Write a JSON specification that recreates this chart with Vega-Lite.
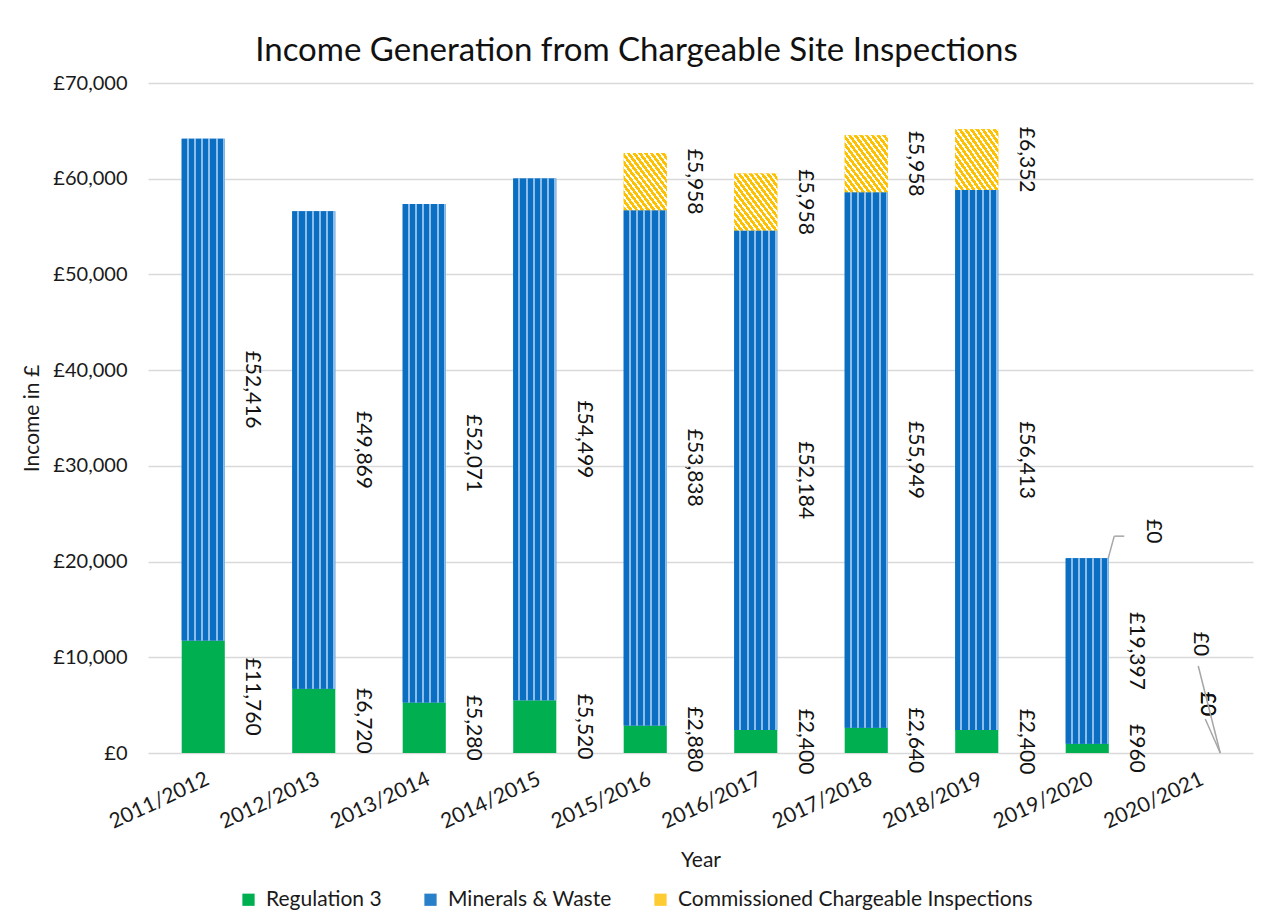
{
  "$schema": "https://vega.github.io/schema/vega-lite/v6.json",
  "width": 1105,
  "height": 670,
  "autosize": "none",
  "padding": {"left": 148, "top": 83, "right": 10, "bottom": 169},
  "background": "white",
  "config": {
    "locale": {"number": {"decimal": ".", "thousands": ",", "grouping": [3], "currency": ["£", ""]}},
    "font": "Lato",
    "view": {"stroke": null},
    "axis": {"labelFont": "Lato", "titleFont": "Lato", "labelColor": "#1a1a1a", "titleColor": "#1a1a1a", "titleFontWeight": "normal"}
  },
  "title": {
    "text": "Income Generation from Chargeable Site Inspections",
    "font": "Lato", "fontSize": 33, "fontWeight": "normal", "color": "#111111",
    "anchor": "middle", "frame": "group", "dx": -64, "offset": 5
  },
  "data": {
    "values": [
      {"year": "2011/2012", "series": "Regulation 3", "value": 11760},
      {"year": "2011/2012", "series": "Minerals & Waste", "value": 52416},
      {"year": "2012/2013", "series": "Regulation 3", "value": 6720},
      {"year": "2012/2013", "series": "Minerals & Waste", "value": 49869},
      {"year": "2013/2014", "series": "Regulation 3", "value": 5280},
      {"year": "2013/2014", "series": "Minerals & Waste", "value": 52071},
      {"year": "2014/2015", "series": "Regulation 3", "value": 5520},
      {"year": "2014/2015", "series": "Minerals & Waste", "value": 54499},
      {"year": "2015/2016", "series": "Regulation 3", "value": 2880},
      {"year": "2015/2016", "series": "Minerals & Waste", "value": 53838},
      {"year": "2015/2016", "series": "Commissioned Chargeable Inspections", "value": 5958},
      {"year": "2016/2017", "series": "Regulation 3", "value": 2400},
      {"year": "2016/2017", "series": "Minerals & Waste", "value": 52184},
      {"year": "2016/2017", "series": "Commissioned Chargeable Inspections", "value": 5958},
      {"year": "2017/2018", "series": "Regulation 3", "value": 2640},
      {"year": "2017/2018", "series": "Minerals & Waste", "value": 55949},
      {"year": "2017/2018", "series": "Commissioned Chargeable Inspections", "value": 5958},
      {"year": "2018/2019", "series": "Regulation 3", "value": 2400},
      {"year": "2018/2019", "series": "Minerals & Waste", "value": 56413},
      {"year": "2018/2019", "series": "Commissioned Chargeable Inspections", "value": 6352},
      {"year": "2019/2020", "series": "Regulation 3", "value": 960},
      {"year": "2019/2020", "series": "Minerals & Waste", "value": 19397},
      {"year": "2019/2020", "series": "Commissioned Chargeable Inspections", "value": 0},
      {"year": "2020/2021", "series": "Regulation 3", "value": 0},
      {"year": "2020/2021", "series": "Minerals & Waste", "value": 0},
      {"year": "2020/2021", "series": "Commissioned Chargeable Inspections", "value": 0}
    ]
  },
  "encoding": {
    "x": {
      "field": "year", "type": "nominal", "sort": null,
      "scale": {"paddingInner": 0.61, "paddingOuter": 0.305},
      "axis": {
        "title": "Year", "titleFontSize": 21, "titleY": 96, "titleBaseline": "top",
        "labelAngle": -25, "labelFontSize": 21, "labelPadding": 15, "labelAlign": "right", "labelBaseline": "top",
        "ticks": false, "domain": false, "grid": false
      }
    }
  },
  "layer": [
    {
      "mark": {"type": "bar"},
      "encoding": {
        "y": {
          "field": "value", "type": "quantitative", "stack": "zero",
          "scale": {"domain": [0, 70000], "nice": false},
          "axis": {"title": "Income in £", "titleFontSize": 21, "titleX": -116, "titleY": 335, "titleBaseline": "middle", "titleAlign": "center", "values": [0, 10000, 20000, 30000, 40000, 50000, 60000, 70000], "format": "$,.0f", "labelFontSize": 20, "labelPadding": 21, "ticks": false, "domain": false, "gridColor": "#d9d9d9", "gridWidth": 1.6}
        },
        "color": {
          "field": "series", "type": "nominal",
          "scale": {
            "domain": ["Regulation 3", "Minerals & Waste", "Commissioned Chargeable Inspections"],
            "range": ["#00B050", "#2a7fc9", "#FFCB33"]
          },
          "legend": {
            "orient": "none", "legendX": 90, "legendY": 806, "direction": "horizontal", "title": null,
            "symbolType": "square", "symbolSize": 150, "symbolStrokeWidth": 0, "labelLimit": 600,
            "labelFont": "Lato", "labelFontSize": 21, "labelColor": "#1a1a1a", "labelOffset": 7, "columnPadding": 38
          }
        },
        "order": {"field": "series", "sort": "descending"}
      }
    },
    {
      "transform": [
        {"stack": "value", "groupby": ["year"], "sort": [{"field": "series", "order": "descending"}], "as": ["v0", "v1"]},
        {"filter": "datum.series === 'Minerals & Waste' && datum.value > 0"}
      ],
      "mark": {
        "type": "bar",
        "fill": {
          "gradient": "linear", "x1": 0, "y1": 0, "x2": 1, "y2": 0,
          "stops": [
            {"offset": 0, "color": "#0a6fc2"}, {"offset": 0.12, "color": "#0a6fc2"},
            {"offset": 0.12, "color": "#8dbde8"}, {"offset": 0.1667, "color": "#8dbde8"},
            {"offset": 0.1667, "color": "#0a6fc2"}, {"offset": 0.2867, "color": "#0a6fc2"},
            {"offset": 0.2867, "color": "#8dbde8"}, {"offset": 0.3333, "color": "#8dbde8"},
            {"offset": 0.3333, "color": "#0a6fc2"}, {"offset": 0.4533, "color": "#0a6fc2"},
            {"offset": 0.4533, "color": "#8dbde8"}, {"offset": 0.5, "color": "#8dbde8"},
            {"offset": 0.5, "color": "#0a6fc2"}, {"offset": 0.62, "color": "#0a6fc2"},
            {"offset": 0.62, "color": "#8dbde8"}, {"offset": 0.6667, "color": "#8dbde8"},
            {"offset": 0.6667, "color": "#0a6fc2"}, {"offset": 0.7867, "color": "#0a6fc2"},
            {"offset": 0.7867, "color": "#8dbde8"}, {"offset": 0.8333, "color": "#8dbde8"},
            {"offset": 0.8333, "color": "#0a6fc2"}, {"offset": 0.9533, "color": "#0a6fc2"},
            {"offset": 0.9533, "color": "#8dbde8"}, {"offset": 1, "color": "#8dbde8"}
          ]
        }
      },
      "encoding": {
        "y": {"field": "v1", "type": "quantitative", "axis": {"title": "Income in £", "titleFontSize": 21, "titleX": -116, "titleY": 335, "titleBaseline": "middle", "titleAlign": "center", "values": [0, 10000, 20000, 30000, 40000, 50000, 60000, 70000], "format": "$,.0f", "labelFontSize": 20, "labelPadding": 21, "ticks": false, "domain": false, "gridColor": "#d9d9d9", "gridWidth": 1.6}},
        "y2": {"field": "v0"}
      }
    },
    {
      "transform": [
        {"stack": "value", "groupby": ["year"], "sort": [{"field": "series", "order": "descending"}], "as": ["v0", "v1"]},
        {"filter": "datum.series === 'Commissioned Chargeable Inspections' && datum.value > 0"}
      ],
      "mark": {
        "type": "bar",
        "fill": {
          "gradient": "linear", "x1": 0, "y1": 1, "x2": 1, "y2": 0,
          "stops": [
            {"offset": 0, "color": "#FFC000"}, {"offset": 0.04, "color": "#FFC000"}, {"offset": 0.04, "color": "#ffffff"}, {"offset": 0.0667, "color": "#ffffff"},
            {"offset": 0.0667, "color": "#FFC000"}, {"offset": 0.1067, "color": "#FFC000"}, {"offset": 0.1067, "color": "#ffffff"}, {"offset": 0.1333, "color": "#ffffff"},
            {"offset": 0.1333, "color": "#FFC000"}, {"offset": 0.1733, "color": "#FFC000"}, {"offset": 0.1733, "color": "#ffffff"}, {"offset": 0.2, "color": "#ffffff"},
            {"offset": 0.2, "color": "#FFC000"}, {"offset": 0.24, "color": "#FFC000"}, {"offset": 0.24, "color": "#ffffff"}, {"offset": 0.2667, "color": "#ffffff"},
            {"offset": 0.2667, "color": "#FFC000"}, {"offset": 0.3067, "color": "#FFC000"}, {"offset": 0.3067, "color": "#ffffff"}, {"offset": 0.3333, "color": "#ffffff"},
            {"offset": 0.3333, "color": "#FFC000"}, {"offset": 0.3733, "color": "#FFC000"}, {"offset": 0.3733, "color": "#ffffff"}, {"offset": 0.4, "color": "#ffffff"},
            {"offset": 0.4, "color": "#FFC000"}, {"offset": 0.44, "color": "#FFC000"}, {"offset": 0.44, "color": "#ffffff"}, {"offset": 0.4667, "color": "#ffffff"},
            {"offset": 0.4667, "color": "#FFC000"}, {"offset": 0.5067, "color": "#FFC000"}, {"offset": 0.5067, "color": "#ffffff"}, {"offset": 0.5333, "color": "#ffffff"},
            {"offset": 0.5333, "color": "#FFC000"}, {"offset": 0.5733, "color": "#FFC000"}, {"offset": 0.5733, "color": "#ffffff"}, {"offset": 0.6, "color": "#ffffff"},
            {"offset": 0.6, "color": "#FFC000"}, {"offset": 0.64, "color": "#FFC000"}, {"offset": 0.64, "color": "#ffffff"}, {"offset": 0.6667, "color": "#ffffff"},
            {"offset": 0.6667, "color": "#FFC000"}, {"offset": 0.7067, "color": "#FFC000"}, {"offset": 0.7067, "color": "#ffffff"}, {"offset": 0.7333, "color": "#ffffff"},
            {"offset": 0.7333, "color": "#FFC000"}, {"offset": 0.7733, "color": "#FFC000"}, {"offset": 0.7733, "color": "#ffffff"}, {"offset": 0.8, "color": "#ffffff"},
            {"offset": 0.8, "color": "#FFC000"}, {"offset": 0.84, "color": "#FFC000"}, {"offset": 0.84, "color": "#ffffff"}, {"offset": 0.8667, "color": "#ffffff"},
            {"offset": 0.8667, "color": "#FFC000"}, {"offset": 0.9067, "color": "#FFC000"}, {"offset": 0.9067, "color": "#ffffff"}, {"offset": 0.9333, "color": "#ffffff"},
            {"offset": 0.9333, "color": "#FFC000"}, {"offset": 0.9733, "color": "#FFC000"}, {"offset": 0.9733, "color": "#ffffff"}, {"offset": 1, "color": "#ffffff"}
          ]
        }
      },
      "encoding": {
        "y": {"field": "v1", "type": "quantitative", "axis": {"title": "Income in £", "titleFontSize": 21, "titleX": -116, "titleY": 335, "titleBaseline": "middle", "titleAlign": "center", "values": [0, 10000, 20000, 30000, 40000, 50000, 60000, 70000], "format": "$,.0f", "labelFontSize": 20, "labelPadding": 21, "ticks": false, "domain": false, "gridColor": "#d9d9d9", "gridWidth": 1.6}},
        "y2": {"field": "v0"}
      }
    },
    {
      "transform": [{"filter": "datum.value > 0"}],
      "mark": {"type": "text", "angle": 90, "xOffset": 49, "fontSize": 21, "font": "Lato", "color": "#111111", "align": "center", "baseline": "middle"},
      "encoding": {
        "y": {"field": "value", "type": "quantitative", "stack": "zero", "bandPosition": 0.5, "axis": {"title": "Income in £", "titleFontSize": 21, "titleX": -116, "titleY": 335, "titleBaseline": "middle", "titleAlign": "center", "values": [0, 10000, 20000, 30000, 40000, 50000, 60000, 70000], "format": "$,.0f", "labelFontSize": 20, "labelPadding": 21, "ticks": false, "domain": false, "gridColor": "#d9d9d9", "gridWidth": 1.6}},
        "detail": {"field": "series"},
        "order": {"field": "series", "sort": "descending"},
        "text": {"field": "value", "type": "quantitative", "format": "$,.0f"}
      }
    },
    {
      "transform": [
        {"stack": "value", "groupby": ["year"], "sort": [{"field": "series", "order": "descending"}], "as": ["v0", "v1"]},
        {"filter": "datum.year === '2019/2020' && datum.value === 0"}
      ],
      "mark": {"type": "text", "angle": 90, "xOffset": 66, "yOffset": -27, "fontSize": 21, "font": "Lato", "color": "#111111", "align": "center", "baseline": "middle"},
      "encoding": {
        "y": {"field": "v1", "type": "quantitative", "axis": {"title": "Income in £", "titleFontSize": 21, "titleX": -116, "titleY": 335, "titleBaseline": "middle", "titleAlign": "center", "values": [0, 10000, 20000, 30000, 40000, 50000, 60000, 70000], "format": "$,.0f", "labelFontSize": 20, "labelPadding": 21, "ticks": false, "domain": false, "gridColor": "#d9d9d9", "gridWidth": 1.6}},
        "text": {"field": "value", "type": "quantitative", "format": "$,.0f"}
      }
    },
    {
      "transform": [
        {"stack": "value", "groupby": ["year"], "sort": [{"field": "series", "order": "descending"}], "as": ["v0", "v1"]},
        {"filter": "datum.year === '2020/2021' && datum.series === 'Minerals & Waste'"}
      ],
      "mark": {"type": "text", "angle": 90, "xOffset": 2.5, "yOffset": -109, "fontSize": 21, "font": "Lato", "color": "#111111", "align": "center", "baseline": "middle"},
      "encoding": {
        "y": {"field": "v1", "type": "quantitative", "axis": {"title": "Income in £", "titleFontSize": 21, "titleX": -116, "titleY": 335, "titleBaseline": "middle", "titleAlign": "center", "values": [0, 10000, 20000, 30000, 40000, 50000, 60000, 70000], "format": "$,.0f", "labelFontSize": 20, "labelPadding": 21, "ticks": false, "domain": false, "gridColor": "#d9d9d9", "gridWidth": 1.6}},
        "text": {"field": "value", "type": "quantitative", "format": "$,.0f"}
      }
    },
    {
      "transform": [
        {"stack": "value", "groupby": ["year"], "sort": [{"field": "series", "order": "descending"}], "as": ["v0", "v1"]},
        {"filter": "datum.year === '2020/2021' && datum.series !== 'Minerals & Waste'"}
      ],
      "mark": {"type": "text", "angle": 90, "xOffset": 9.5, "yOffset": -49, "fontSize": 21, "font": "Lato", "color": "#111111", "align": "center", "baseline": "middle"},
      "encoding": {
        "y": {"field": "v1", "type": "quantitative", "axis": {"title": "Income in £", "titleFontSize": 21, "titleX": -116, "titleY": 335, "titleBaseline": "middle", "titleAlign": "center", "values": [0, 10000, 20000, 30000, 40000, 50000, 60000, 70000], "format": "$,.0f", "labelFontSize": 20, "labelPadding": 21, "ticks": false, "domain": false, "gridColor": "#d9d9d9", "gridWidth": 1.6}},
        "text": {"field": "value", "type": "quantitative", "format": "$,.0f"}
      }
    },
    {
      "transform": [
        {"stack": "value", "groupby": ["year"], "sort": [{"field": "series", "order": "descending"}], "as": ["v0", "v1"]},
        {"filter": "datum.year === '2019/2020' && datum.value === 0"}
      ],
      "mark": {"type": "rule", "color": "#a6a6a6", "strokeWidth": 1.5, "xOffset": 21, "yOffset": 0, "x2Offset": 27, "y2Offset": -22},
      "encoding": {
        "y": {"field": "v1", "type": "quantitative", "axis": {"title": "Income in £", "titleFontSize": 21, "titleX": -116, "titleY": 335, "titleBaseline": "middle", "titleAlign": "center", "values": [0, 10000, 20000, 30000, 40000, 50000, 60000, 70000], "format": "$,.0f", "labelFontSize": 20, "labelPadding": 21, "ticks": false, "domain": false, "gridColor": "#d9d9d9", "gridWidth": 1.6}},
        "y2": {"field": "v1"},
        "x2": {"field": "year"}
      }
    },
    {
      "transform": [
        {"stack": "value", "groupby": ["year"], "sort": [{"field": "series", "order": "descending"}], "as": ["v0", "v1"]},
        {"filter": "datum.year === '2019/2020' && datum.value === 0"}
      ],
      "mark": {"type": "rule", "color": "#a6a6a6", "strokeWidth": 1.5, "xOffset": 27, "yOffset": -22, "x2Offset": 37, "y2Offset": -22},
      "encoding": {
        "y": {"field": "v1", "type": "quantitative", "axis": {"title": "Income in £", "titleFontSize": 21, "titleX": -116, "titleY": 335, "titleBaseline": "middle", "titleAlign": "center", "values": [0, 10000, 20000, 30000, 40000, 50000, 60000, 70000], "format": "$,.0f", "labelFontSize": 20, "labelPadding": 21, "ticks": false, "domain": false, "gridColor": "#d9d9d9", "gridWidth": 1.6}},
        "y2": {"field": "v1"},
        "x2": {"field": "year"}
      }
    },
    {
      "transform": [
        {"stack": "value", "groupby": ["year"], "sort": [{"field": "series", "order": "descending"}], "as": ["v0", "v1"]},
        {"filter": "datum.year === '2020/2021' && datum.series === 'Minerals & Waste'"}
      ],
      "mark": {"type": "rule", "color": "#a6a6a6", "strokeWidth": 1.5, "xOffset": 22.5, "yOffset": 0, "x2Offset": 0.5, "y2Offset": -87},
      "encoding": {
        "y": {"field": "v1", "type": "quantitative", "axis": {"title": "Income in £", "titleFontSize": 21, "titleX": -116, "titleY": 335, "titleBaseline": "middle", "titleAlign": "center", "values": [0, 10000, 20000, 30000, 40000, 50000, 60000, 70000], "format": "$,.0f", "labelFontSize": 20, "labelPadding": 21, "ticks": false, "domain": false, "gridColor": "#d9d9d9", "gridWidth": 1.6}},
        "y2": {"field": "v1"},
        "x2": {"field": "year"}
      }
    },
    {
      "transform": [
        {"stack": "value", "groupby": ["year"], "sort": [{"field": "series", "order": "descending"}], "as": ["v0", "v1"]},
        {"filter": "datum.year === '2020/2021' && datum.series === 'Regulation 3'"}
      ],
      "mark": {"type": "rule", "color": "#a6a6a6", "strokeWidth": 1.5, "xOffset": 22.5, "yOffset": 0, "x2Offset": 7.5, "y2Offset": -34},
      "encoding": {
        "y": {"field": "v1", "type": "quantitative", "axis": {"title": "Income in £", "titleFontSize": 21, "titleX": -116, "titleY": 335, "titleBaseline": "middle", "titleAlign": "center", "values": [0, 10000, 20000, 30000, 40000, 50000, 60000, 70000], "format": "$,.0f", "labelFontSize": 20, "labelPadding": 21, "ticks": false, "domain": false, "gridColor": "#d9d9d9", "gridWidth": 1.6}},
        "y2": {"field": "v1"},
        "x2": {"field": "year"}
      }
    }
  ]
}
